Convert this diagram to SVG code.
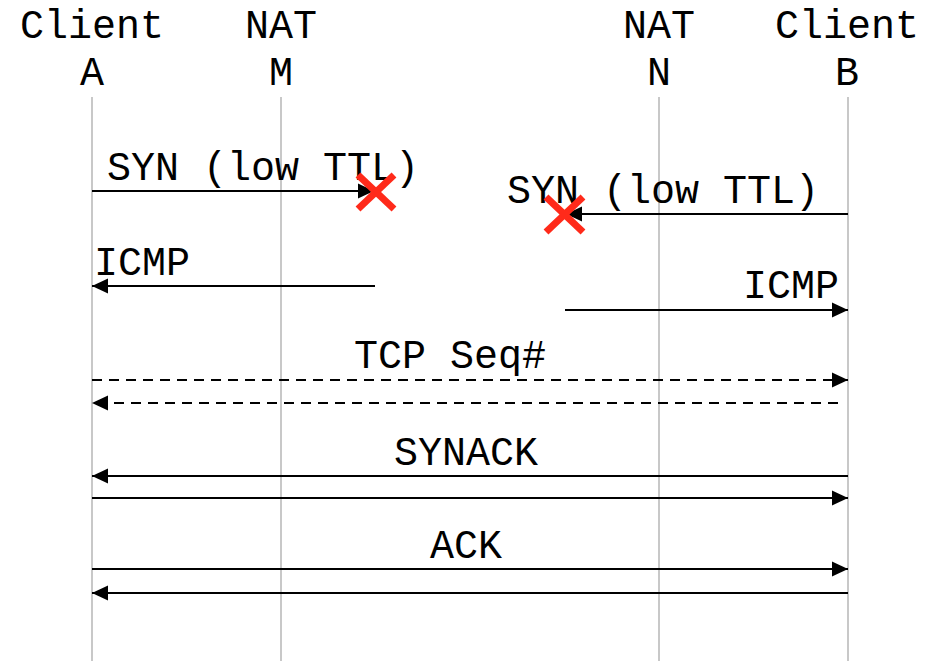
<svg xmlns="http://www.w3.org/2000/svg" width="937" height="661" viewBox="0 0 937 661">
<style>
text{font-family:"Liberation Mono","Courier New",monospace;font-size:40px;fill:#000}
.life{stroke:#c8c8c8;stroke-width:2}
.msg{stroke:#000;stroke-width:2;fill:none}
.dash{stroke-dasharray:10 7}
.x{stroke:#ff2a1a;stroke-width:7;stroke-linecap:butt}
</style>
<defs>
<marker id="ah" markerUnits="userSpaceOnUse" markerWidth="16" markerHeight="16" refX="16" refY="8" orient="auto">
<path d="M0,0.5 L16,8 L0,15.5 Z" fill="#000"/>
</marker>
</defs>
<rect width="937" height="661" fill="#fff"/>
<g id="clientA">
<text x="92" y="38" text-anchor="middle">Client</text>
<text x="92" y="85" text-anchor="middle">A</text>
<line class="life" x1="92" y1="97" x2="92" y2="661"/>
</g>
<g id="natM">
<text x="281" y="38" text-anchor="middle">NAT</text>
<text x="281" y="85" text-anchor="middle">M</text>
<line class="life" x1="281" y1="97" x2="281" y2="661"/>
</g>
<g id="natN">
<text x="659" y="38" text-anchor="middle">NAT</text>
<text x="659" y="85" text-anchor="middle">N</text>
<line class="life" x1="659" y1="97" x2="659" y2="661"/>
</g>
<g id="clientB">
<text x="847" y="38" text-anchor="middle">Client</text>
<text x="847" y="85" text-anchor="middle">B</text>
<line class="life" x1="848" y1="97" x2="848" y2="661"/>
</g>
<g id="connectors">
<line class="msg" x1="92" y1="191" x2="374" y2="191" marker-end="url(#ah)"/>
<text x="107" y="180">SYN (low TTL)</text>
<line class="msg" x1="848" y1="214" x2="566" y2="214" marker-end="url(#ah)"/>
<text x="507" y="203">SYN (low TTL)</text>
<line class="msg" x1="375" y1="286" x2="92" y2="286" marker-end="url(#ah)"/>
<text x="94" y="275">ICMP</text>
<line class="msg" x1="565" y1="310" x2="848" y2="310" marker-end="url(#ah)"/>
<text x="743" y="298">ICMP</text>
<line class="msg dash" x1="92" y1="380" x2="848" y2="380" marker-end="url(#ah)"/>
<line class="msg dash" x1="838" y1="403" x2="92" y2="403" marker-end="url(#ah)"/>
<text x="450" y="368" text-anchor="middle">TCP Seq#</text>
<line class="msg" x1="848" y1="476" x2="92" y2="476" marker-end="url(#ah)"/>
<line class="msg" x1="92" y1="498" x2="848" y2="498" marker-end="url(#ah)"/>
<text x="466" y="465" text-anchor="middle">SYNACK</text>
<line class="msg" x1="92" y1="569" x2="848" y2="569" marker-end="url(#ah)"/>
<line class="msg" x1="848" y1="593" x2="92" y2="593" marker-end="url(#ah)"/>
<text x="466" y="558" text-anchor="middle">ACK</text>
</g>
<g id="drop1">
<line class="x" x1="358" y1="175" x2="394" y2="209"/>
<line class="x" x1="394" y1="175" x2="358" y2="209"/>
</g>
<g id="drop2">
<line class="x" x1="546" y1="197" x2="583" y2="232"/>
<line class="x" x1="583" y1="197" x2="546" y2="232"/>
</g>
</svg>
